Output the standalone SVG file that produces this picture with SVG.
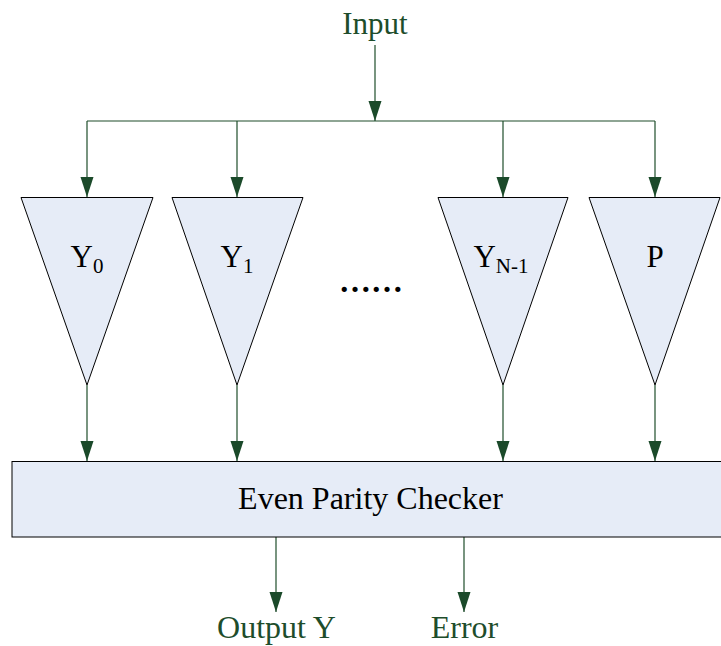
<svg xmlns="http://www.w3.org/2000/svg" width="721" height="646" viewBox="0 0 721 646">
<style>
.lbl{font-family:"Liberation Serif","Times New Roman",serif;font-size:31px;fill:#1E4D2B;text-anchor:middle}
.blk{font-family:"Liberation Serif","Times New Roman",serif;font-size:31px;fill:#000;text-anchor:middle}
.sub{font-size:21px}
.shape{fill:#E6ECF7;stroke:#000;stroke-width:1}
.wire{fill:none;stroke:#1E4D2B;stroke-width:1.2}
</style>
<defs>
<marker id="ah" markerUnits="userSpaceOnUse" markerWidth="20" markerHeight="14" refX="20" refY="6.5" orient="auto">
<path d="M0,0 L20,6.5 L0,13 z" fill="#1B4A2A"/>
</marker>
</defs>
<rect width="721" height="646" fill="#fff"/>
<g id="connectors">
<line class="wire" x1="375" y1="45" x2="375" y2="121" marker-end="url(#ah)"/>
<line class="wire" x1="87" y1="121" x2="655" y2="121"/>
<line class="wire" x1="87" y1="121" x2="87" y2="197" marker-end="url(#ah)"/>
<line class="wire" x1="237" y1="121" x2="237" y2="197" marker-end="url(#ah)"/>
<line class="wire" x1="503" y1="121" x2="503" y2="197" marker-end="url(#ah)"/>
<line class="wire" x1="655" y1="121" x2="655" y2="197" marker-end="url(#ah)"/>
<line class="wire" x1="87" y1="385" x2="87" y2="461" marker-end="url(#ah)"/>
<line class="wire" x1="237" y1="385" x2="237" y2="461" marker-end="url(#ah)"/>
<line class="wire" x1="503" y1="385" x2="503" y2="461" marker-end="url(#ah)"/>
<line class="wire" x1="655" y1="385" x2="655" y2="461" marker-end="url(#ah)"/>
<line class="wire" x1="276" y1="537" x2="276" y2="612" marker-end="url(#ah)"/>
<line class="wire" x1="464" y1="537" x2="464" y2="612" marker-end="url(#ah)"/>
</g>
<g id="input"><text class="lbl" x="375" y="34">Input</text></g>
<g id="y0">
<polygon class="shape" points="21,197.5 153,197.5 87,385"/>
<text class="blk" x="87" y="267">Y<tspan class="sub" dy="6">0</tspan></text>
</g>
<g id="y1">
<polygon class="shape" points="172,197.5 303,197.5 237,385"/>
<text class="blk" x="237" y="267">Y<tspan class="sub" dy="6">1</tspan></text>
</g>
<g id="dots"><text class="blk" x="371" y="292" style="font-size:32px;font-weight:bold">……</text></g>
<g id="yn1">
<polygon class="shape" points="438,197.5 568,197.5 503,385"/>
<text class="blk" x="501" y="267">Y<tspan class="sub" dy="6">N-1</tspan></text>
</g>
<g id="p">
<polygon class="shape" points="589,197.5 720,197.5 655,385"/>
<text class="blk" x="655" y="267">P</text>
</g>
<g id="checker">
<rect class="shape" x="12" y="461.5" width="712" height="75.5"/>
<text class="blk" x="370.5" y="509" style="font-size:32px">Even Parity Checker</text>
</g>
<g id="outY"><text class="lbl" x="276.5" y="638" style="font-size:32px">Output Y</text></g>
<g id="err"><text class="lbl" x="464.5" y="638" style="font-size:32px">Error</text></g>
</svg>
